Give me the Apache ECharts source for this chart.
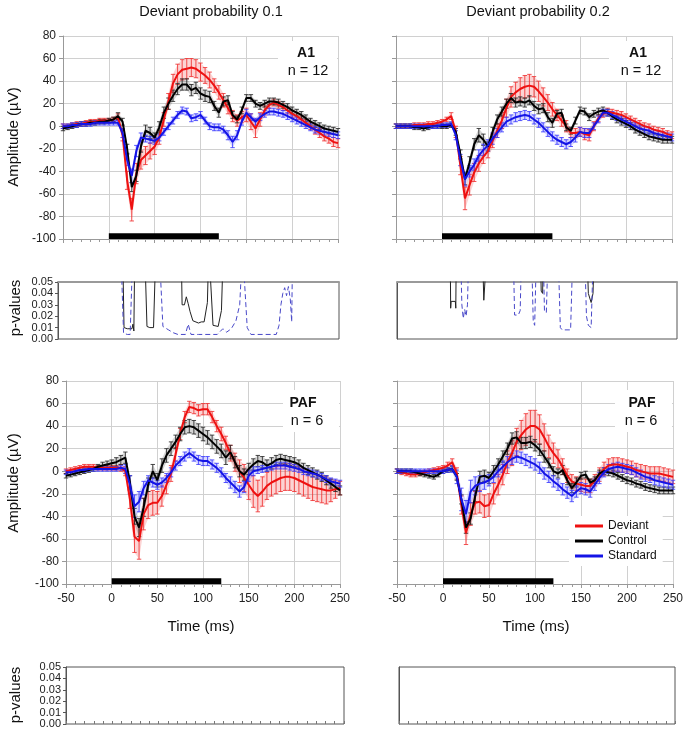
<!DOCTYPE html>
<html><head><meta charset="utf-8">
<script src="https://cdn.jsdelivr.net/npm/echarts/dist/echarts.min.js"></script>
<style>html,body{margin:0;padding:0;background:#fff}#c{width:686px;height:732px}</style>
</head><body><div id="c"></div>
<script>
// ---------- DATA ----------
const time = [-50,-45,-40,-35,-30,-25,-20,-15,-10,-5,0,5,10,15,20,25,30,35,40,45,50,55,60,65,70,75,80,85,90,95,100,105,110,115,120,125,130,135,140,145,150,155,160,165,170,175,180,185,190,195,200,205,210,215,220,225,230,235,240,245,250];
const xTicks = [-50,0,50,100,150,200,250];
const seriesNames = ['Deviant','Control','Standard'];
const columnTitles = ['Deviant probability 0.1','Deviant probability 0.2'];
const areaLabels = [['A1','n = 12'],['PAF','n = 6']];
const stimulusBar = [0, 120];      // ms
const stimulusBarLevel = [-100, -95]; // µV

// A1, probability 0.1
const a1p1Dev = [0,0,1,2,2,3,4,4,5,5, 5,6,8,-8,-48,-74,-42,-30,-26,-22, -18,-10,6,22,38,46,50,51,52,51, 48,45,41,36,30,23,16,9,5,8, 10,4,-2,6,14,19,21,19,17,14, 11,9,6,3,0,-3,-6,-9,-11,-14, -15];
const a1p1DevErr = [2,2,2,2,2,2,2,2,2,2, 2,2,3,5,8,10,9,8,8,7, 7,6,6,7,8,9,9,9,8,8, 8,7,7,6,6,6,5,5,5,5, 6,7,8,6,4,3,3,3,3,3, 3,3,3,3,3,4,4,4,4,4, 4];
const a1p1Ctl = [-2,-1,0,1,2,2,3,3,4,4, 5,6,9,4,-20,-54,-44,-18,-4,-6, -10,-1,12,20,27,33,37,37,32,34, 29,27,26,18,12,22,23,10,6,14, 25,25,20,18,20,22,22,21,19,17, 14,12,10,7,4,2,0,-2,-3,-4, -5];
const a1p1CtlErr = [2,2,2,2,2,2,2,2,2,2, 2,2,3,3,4,4,5,5,5,5, 4,5,5,5,5,5,5,5,5,5, 5,5,5,4,4,4,4,3,3,3, 3,3,3,3,3,3,3,3,3,3, 3,3,3,3,3,3,3,3,3,3, 3];
const a1p1Std = [0,0,1,1,2,2,2,3,3,3, 3,3,3,-6,-30,-44,-22,-10,-11,-12, -13,-10,-5,0,5,10,14,13,7,8, 10,5,0,-1,-1,-3,-8,-14,-8,4, 12,8,4,8,11,13,13,12,11,9, 7,5,3,1,-1,-3,-4,-5,-6,-7, -8];
const a1p1StdErr = [2,2,2,2,2,2,2,2,2,2, 2,2,2,4,5,6,5,4,3,3, 3,3,3,3,3,3,3,3,3,3, 3,3,3,3,3,3,4,5,4,3, 3,3,3,3,3,3,3,3,3,3, 3,3,3,3,3,3,3,3,3,3, 3];

// A1, probability 0.2
const a1p2Dev = [0,0,0,0,1,1,1,2,2,3, 4,6,9,-5,-35,-64,-52,-41,-33,-27, -22,-13,-4,5,16,26,30,33,35,36, 35,31,26,21,15,10,5,0,-6,-6, -5,-7,-8,0,7,11,13,12,11,10, 8,6,4,2,0,-1,-3,-4,-5,-7, -8];
const a1p2DevErr = [2,2,2,2,2,2,2,2,2,2, 2,2,3,5,8,10,9,8,7,6, 6,6,6,7,8,9,9,10,10,10, 9,9,8,7,6,5,5,5,4,4, 4,5,5,4,3,3,3,3,3,3, 3,3,3,3,3,3,3,3,3,3, 3];
const a1p2Ctl = [0,0,0,0,-1,-1,-2,-1,0,0, 0,0,1,-5,-25,-47,-32,-16,-8,-12, -18,-5,6,13,20,25,21,22,21,23, 18,15,16,8,3,11,12,-1,-4,5, 14,13,8,11,13,14,12,9,6,4, 2,0,-3,-5,-7,-9,-10,-11,-12,-12, -12];
const a1p2CtlErr = [2,2,2,2,2,2,2,2,2,2, 2,2,2,3,4,5,5,5,6,5, 4,4,4,4,4,4,4,4,4,4, 4,4,4,4,4,3,3,3,3,3, 3,3,3,3,3,3,3,3,3,3, 3,3,3,3,3,3,3,3,3,3, 3];
const a1p2Std = [0,0,0,0,0,0,0,0,0,0, 1,1,2,-8,-30,-47,-40,-34,-26,-21, -17,-11,-6,-1,4,6,8,9,10,9, 6,3,-1,-5,-9,-12,-14,-16,-14,-10, -5,-6,-6,0,6,12,12,10,8,6, 4,2,0,-2,-3,-4,-6,-7,-8,-9, -10];
const a1p2StdErr = [2,2,2,2,2,2,2,2,2,2, 2,2,2,4,5,6,5,5,5,5, 5,5,4,4,4,4,4,4,4,4, 4,4,4,4,4,4,4,4,4,4, 4,4,4,3,3,3,3,3,3,3, 3,3,3,3,3,3,3,3,3,3, 3];

// PAF, probability 0.1
const pafp1Dev = [0,1,2,3,4,4,4,3,3,3, 3,3,3,0,-25,-58,-62,-38,-30,-28, -28,-22,-12,-2,15,33,48,57,56,54, 55,55,48,40,33,25,16,8,0,-6, -12,-18,-22,-18,-13,-10,-8,-6,-5,-5, -6,-8,-10,-12,-14,-15,-16,-17,-17,-16, -15];
const pafp1DevErr = [2,2,2,2,2,2,2,2,2,2, 2,2,3,4,8,14,16,14,12,11, 10,9,8,7,6,5,5,5,5,5, 5,5,5,5,6,6,7,8,10,12, 13,14,14,13,12,12,12,12,12,12, 12,12,12,12,12,12,12,12,10,8, 6];
const pafp1Ctl = [-4,-3,-2,-1,0,1,2,4,5,6, 7,8,10,12,-10,-40,-50,-32,-12,0, -8,5,14,20,26,33,39,40,39,36, 33,30,26,22,18,12,17,8,0,-3, 2,6,9,8,5,7,10,11,10,9, 8,6,3,1,-1,-3,-5,-8,-11,-14, -17];
const pafp1CtlErr = [2,2,2,2,2,2,2,2,3,3, 3,4,4,5,6,7,8,8,6,6, 6,6,6,6,6,6,6,6,6,6, 6,6,6,6,6,6,6,5,5,5, 5,5,5,5,5,5,4,4,4,4, 4,4,4,4,4,4,4,4,4,4, 4];
const pafp1Std = [-1,-1,0,1,1,2,2,2,2,2, 2,2,3,2,-12,-31,-27,-15,-8,-10, -12,-10,-6,-1,5,9,13,16,13,10, 9,9,6,3,-1,-6,-10,-14,-18,-14, -4,0,1,2,3,4,5,5,5,4, 3,2,0,-1,-2,-3,-5,-7,-9,-10, -11];
const pafp1StdErr = [2,2,2,2,2,2,2,2,2,2, 2,2,2,4,8,10,9,6,4,4, 4,4,4,4,4,4,4,4,4,4, 4,4,4,4,4,4,5,5,5,5, 5,4,3,3,3,3,3,3,3,3, 3,3,3,3,3,3,3,3,3,3, 3];

// PAF, probability 0.2
const pafp2Dev = [0,-1,-2,-3,-3,-2,-1,0,1,2, 3,5,8,-2,-30,-55,-38,-28,-27,-31, -30,-20,-12,-3,8,16,26,32,37,40, 40,37,30,22,16,11,4,-4,-9,-11, -12,-13,-13,-8,-3,2,5,6,6,5, 4,3,1,0,-1,-2,-2,-2,-3,-4, -5];
const pafp2DevErr = [2,2,2,2,2,2,2,2,2,2, 2,3,3,5,8,10,10,10,10,10, 10,9,9,9,10,11,12,13,14,14, 14,13,12,10,9,8,7,6,6,6, 6,6,6,5,6,6,6,6,6,6, 6,6,6,6,6,6,6,6,6,6, 6];
const pafp2Ctl = [0,0,0,0,-1,-2,-3,-4,-5,-3, 0,1,2,-5,-25,-50,-42,-22,-5,-4, -6,0,6,13,20,29,30,25,25,26, 23,19,13,7,0,-2,1,-8,-15,-10, -4,-3,-10,-8,-2,0,-1,-2,-4,-6, -8,-9,-11,-12,-14,-15,-16,-17,-17,-17, -17];
const pafp2CtlErr = [2,2,2,2,2,2,2,2,2,2, 2,2,2,3,4,5,5,5,5,5, 5,5,5,5,5,5,5,5,5,5, 5,5,5,4,4,4,4,4,4,4, 3,3,3,3,3,3,3,3,3,3, 3,3,3,3,3,3,3,3,3,3, 3];
const pafp2Std = [0,0,0,0,0,0,0,0,0,0, 0,1,2,-5,-25,-38,-18,-13,-11,-10, -8,-5,0,4,8,11,13,12,10,8, 6,3,-2,-5,-9,-12,-16,-19,-22,-18, -15,-16,-18,-12,-6,-1,2,3,4,3, 2,1,-1,-3,-5,-6,-8,-9,-10,-11, -12];
const pafp2StdErr = [2,2,2,2,2,2,2,2,2,2, 2,2,3,6,10,12,10,8,7,6, 5,5,5,5,5,5,5,5,5,5, 5,5,5,5,5,5,5,5,5,5, 5,5,5,5,5,4,4,4,4,4, 4,4,4,4,4,4,4,4,4,4, 4];

// p-values [time ms, p]; values above 0.05 leave the plotted range
const pA1p1Ctl = [[19,0.08],[20.5,0.01],[24,0.009],[29,0.009],[30,0.013],[31,0.007],[32,0.08],[42.5,0.08],[45,0.011],[48,0.01],[52,0.01],[54.5,0.08],[81.5,0.08],[82.5,0.03],[85,0.03],[87,0.037],[89,0.031],[91,0.024],[94,0.016],[96,0.015],[100,0.014],[103,0.015],[106,0.015],[109.5,0.032],[111,0.08],[113,0.08],[115.5,0.012],[121,0.011],[124.5,0.025],[126.5,0.08]];
const pA1p1Std = [[17,0.08],[20,0.005],[24,0.004],[27,0.004],[30,0.08],[58,0.08],[62,0.011],[68,0.008],[73,0.0055],[78,0.004],[86,0.004],[89,0.013],[92,0.004],[100,0.004],[120,0.004],[126,0.009],[130,0.006],[135,0.009],[140,0.016],[144,0.03],[147,0.08],[149,0.08],[152,0.01],[156,0.004],[183,0.004],[186,0.012],[188,0.03],[190,0.04],[192,0.045],[194,0.038],[196,0.046],[198,0.035],[199.5,0.015],[200.5,0.08]];
const pA1p2Ctl = [[7,0.08],[7.5,0.027],[8,0.033],[12.5,0.033],[13,0.027],[13.5,0.08],[41.5,0.08],[43,0.034],[45,0.034],[46.5,0.08],[103.5,0.08],[104.5,0.042],[106,0.04],[107,0.08],[153.5,0.08],[155,0.04],[158,0.032],[160,0.04],[161.5,0.08]];
const pA1p2Std = [[18,0.08],[19.5,0.03],[21,0.018],[22.5,0.026],[24,0.02],[25.5,0.03],[27,0.08],[74.5,0.08],[76,0.021],[80,0.021],[82,0.025],[83.5,0.08],[94,0.08],[96,0.015],[97.5,0.012],[99.5,0.08],[106.5,0.08],[108,0.025],[110,0.023],[112,0.08],[122.5,0.08],[125,0.01],[127,0.008],[136,0.008],[138.5,0.08],[151,0.08],[153,0.02],[155,0.012],[158,0.01],[160.5,0.08]];

// ---------- LAYOUT / STYLE ----------
const FONT = '"Liberation Sans", Arial, sans-serif';
const L = {
  tl: {left:63, top:36, width:275, height:203},
  tr: {left:396, top:36, width:276, height:203},
  ptl:{left:58, top:282, width:281, height:57},
  ptr:{left:397, top:282, width:280, height:57},
  bl: {left:66, top:381, width:274, height:203},
  br: {left:397, top:381, width:276, height:203},
  pbl:{left:66, top:667, width:278, height:57},
  pbr:{left:399, top:667, width:276, height:57}
};
const COL = {dev:'#ee1111', ctl:'#000000', std:'#1414e6'};
const ERRCOL = {dev:'rgba(240,50,50,0.85)', ctl:'rgba(40,40,40,0.85)', std:'rgba(60,60,255,0.85)'};
const BANDCOL = {dev:'rgba(240,60,60,0.22)', ctl:'rgba(50,50,50,0.2)', std:'rgba(70,70,255,0.2)'};

const gridOrder = ['tl','tr','ptl','ptr','bl','br','pbl','pbr'];
const grids = gridOrder.map(k => {
  const isP = k.startsWith('p');
  return Object.assign({}, L[k], {containLabel:false, outerBoundsMode:'none', show:isP, borderColor:'#555', borderWidth:1, backgroundColor:'transparent'});
});

function mainX(gi, labels){
  return {type:'value', gridIndex:gi, min:-50, max:250, interval:50,
    axisLine:{show:true, onZero:false, lineStyle:{color:'#999'}},
    axisTick:{show:true, length:4, lineStyle:{color:'#999'}},
    minorTick:{show:true, splitNumber:5, length:3, lineStyle:{color:'#999'}},
    axisLabel:{show:labels, fontSize:12, color:'#222', margin:9, fontFamily:FONT,
      formatter: v => xTicks.includes(v) ? String(v) : ''},
    splitLine:{show:true, lineStyle:{color:'#d0d0d0'}}, minorSplitLine:{show:false}};
}
function mainY(gi, labels){
  return {type:'value', gridIndex:gi, min:-100, max:80, interval:20,
    axisLine:{show:true, onZero:false, lineStyle:{color:'#999'}},
    axisTick:{show:true, length:4, lineStyle:{color:'#999'}},
    axisLabel:{show:labels, fontSize:12, color:'#222', margin:7, fontFamily:FONT},
    splitLine:{show:true, lineStyle:{color:'#d0d0d0'}}};
}
function pX(gi, ticks){
  return {type:'value', gridIndex:gi, min:-50, max:250, interval:10,
    axisLine:{show:false}, axisTick:{show:ticks, inside:true, length:3, lineStyle:{color:'#777'}},
    axisLabel:{show:false}, splitLine:{show:false}};
}
function pY(gi, labels){
  return {type:'value', gridIndex:gi, min:0, max:0.05, interval:0.01,
    axisLine:{show:true, onZero:false, lineStyle:{color:'#555'}},
    axisTick:{show:labels, length:3, lineStyle:{color:'#555'}},
    axisLabel:{show:labels, fontSize:11, color:'#222', margin:5, fontFamily:FONT, formatter:v=>v.toFixed(2)},
    splitLine:{show:false}};
}
function topBorder(gi){
  return {type:'value', gridIndex:gi, position:'top', min:-50, max:250,
    axisLine:{show:true, onZero:false, lineStyle:{color:'#9a9a9a', width:2}},
    axisTick:{show:false}, axisLabel:{show:false}, splitLine:{show:false}};
}

const xAxes = [mainX(0,false), mainX(1,false), pX(2,false), pX(3,false), mainX(4,true), mainX(5,true), pX(6,true), pX(7,true), topBorder(2), topBorder(3)];
const yAxes = [mainY(0,true), mainY(1,false), pY(2,true), pY(3,false), mainY(4,true), mainY(5,false), pY(6,true), pY(7,false)];

function errRender(color){
  return function(params, api){
    const x = api.value(0), lo = api.value(1), hi = api.value(2);
    const a = api.coord([x, hi]), b = api.coord([x, lo]);
    const w = 2.2;
    const st = {stroke:color, lineWidth:1};
    return {type:'group', children:[
      {type:'line', shape:{x1:a[0],y1:a[1],x2:b[0],y2:b[1]}, style:st},
      {type:'line', shape:{x1:a[0]-w,y1:a[1],x2:a[0]+w,y2:a[1]}, style:st},
      {type:'line', shape:{x1:b[0]-w,y1:b[1],x2:b[0]+w,y2:b[1]}, style:st}
    ]};
  };
}

const series = [];
function addPanel(gi, dev, devE, ctl, ctlE, std, stdE){
  const sets = [['dev',seriesNames[0],dev,devE],['ctl',seriesNames[1],ctl,ctlE],['std',seriesNames[2],std,stdE]];
  sets.forEach(([k,name,vals,errs]) => {
    // shaded band between the error limits (the dense bars of the original)
    series.push({type:'custom', xAxisIndex:gi, yAxisIndex:gi, silent:true,
      data: time.map((t,i)=>[t, vals[i]-errs[i], vals[i]+errs[i]]),
      encode:{x:0, y:[1,2]},
      renderItem:(p, api)=>{
        if (p.dataIndex !== 0) return null;
        const up = time.map((t,i)=>api.coord([t, vals[i]+errs[i]]));
        const dn = time.map((t,i)=>api.coord([t, vals[i]-errs[i]])).reverse();
        return {type:'polygon', shape:{points: up.concat(dn)}, style:{fill:BANDCOL[k]}};
      }});
    series.push({type:'custom', xAxisIndex:gi, yAxisIndex:gi, silent:true,
      data: time.map((t,i)=>[t, vals[i]-errs[i], vals[i]+errs[i]]),
      encode:{x:0, y:[1,2]}, renderItem: errRender(ERRCOL[k])});
    series.push({type:'line', name:name, xAxisIndex:gi, yAxisIndex:gi, silent:true,
      data: time.map((t,i)=>[t, vals[i]]), showSymbol:false, symbol:'none',
      color: COL[k], itemStyle:{color:COL[k]}, lineStyle:{color:COL[k], width:2}});
  });
  series.push({type:'custom', xAxisIndex:gi, yAxisIndex:gi, silent:true, z:5,
    data:[[stimulusBar[0], stimulusBarLevel[0], stimulusBar[1], stimulusBarLevel[1]]],
    encode:{x:[0,2], y:[1,3]},
    renderItem:(p, api)=>{
      const a = api.coord([api.value(0), api.value(1)]);
      const b = api.coord([api.value(2), api.value(3)]);
      return {type:'rect', shape:{x:a[0], y:b[1], width:b[0]-a[0], height:a[1]-b[1]}, style:{fill:'#000'}};
    }});
}
addPanel(0, a1p1Dev, a1p1DevErr, a1p1Ctl, a1p1CtlErr, a1p1Std, a1p1StdErr);
addPanel(1, a1p2Dev, a1p2DevErr, a1p2Ctl, a1p2CtlErr, a1p2Std, a1p2StdErr);
addPanel(4, pafp1Dev, pafp1DevErr, pafp1Ctl, pafp1CtlErr, pafp1Std, pafp1StdErr);
addPanel(5, pafp2Dev, pafp2DevErr, pafp2Ctl, pafp2CtlErr, pafp2Std, pafp2StdErr);

function addP(gi, ctlData, stdData){
  series.push({type:'line', name:'p control', xAxisIndex:gi, yAxisIndex:gi, silent:true, clip:true,
    data: ctlData, showSymbol:false, symbol:'none', lineStyle:{color:'#222', width:1}, color:'#222'});
  series.push({type:'line', name:'p standard', xAxisIndex:gi, yAxisIndex:gi, silent:true, clip:true,
    data: stdData, showSymbol:false, symbol:'none', lineStyle:{color:'#4848c8', width:1, type:[5,3]}, color:'#4848c8'});
}
addP(2, pA1p1Ctl, pA1p1Std);
addP(3, pA1p2Ctl, pA1p2Std);

function txt(x, y, text, size, extra){
  return Object.assign({type:'text', x:x, y:y, z:20, silent:true,
    style:Object.assign({text:text, fill:'#111', font: size+'px '+FONT, textAlign:'center', textVerticalAlign:'middle'}, extra||{})});
}
function vtxt(x, y, text, size){
  return {type:'text', x:x, y:y, rotation:Math.PI/2, z:20, silent:true,
    style:{text:text, fill:'#111', font: size+'px '+FONT, textAlign:'center', textVerticalAlign:'middle'}};
}
function labelBox(x0, y0, w, h, l1, l2, cx1, cx2, y1, y2){
  return [
    {type:'rect', shape:{x:x0, y:y0, width:w, height:h}, style:{fill:'#fff'}, z:15, silent:true},
    txt(cx1, y1, l1, 14, {font:'bold 14px '+FONT}),
    txt(cx2, y2, l2, 14.5)
  ];
}

const graphic = [
  txt(211, 12, columnTitles[0], 14.5),
  txt(538, 12, columnTitles[1], 14.5),
  vtxt(14, 137, 'Amplitude (µV)', 15),
  vtxt(14, 483, 'Amplitude (µV)', 15),
  vtxt(16, 308, 'p-values', 15),
  vtxt(16, 695, 'p-values', 15),
  txt(201, 627, 'Time (ms)', 15),
  txt(536, 627, 'Time (ms)', 15),
  ...labelBox(278, 41, 59, 40, areaLabels[0][0], areaLabels[0][1], 306, 308, 53, 71),
  ...labelBox(609, 41, 62, 40, areaLabels[0][0], areaLabels[0][1], 638, 641, 53, 71),
  ...labelBox(283, 390, 56, 42, areaLabels[1][0], areaLabels[1][1], 303, 307, 403, 421),
  ...labelBox(615, 390, 57, 42, areaLabels[1][0], areaLabels[1][1], 642, 641, 403, 421)
];

const option = {
  animation:false,
  backgroundColor:'#fff',
  textStyle:{fontFamily:FONT},
  grid: grids,
  xAxis: xAxes,
  yAxis: yAxes,
  legend:{data:seriesNames, orient:'vertical', left:569, top:516, itemWidth:28, itemHeight:3, icon:'rect',
    itemGap:3, padding:[4,6,4,6], backgroundColor:'#fff', selectedMode:false,
    textStyle:{fontSize:12, color:'#111', fontFamily:FONT}},
  tooltip:{show:false},
  series: series,
  graphic: graphic
};
const chart = echarts.init(document.getElementById('c'), null, {renderer:'canvas'});
chart.setOption(option);
</script>
</body></html>
